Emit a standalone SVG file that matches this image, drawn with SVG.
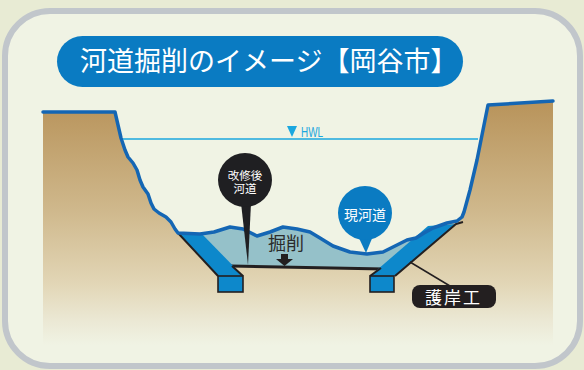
<svg xmlns="http://www.w3.org/2000/svg" width="584" height="370" viewBox="0 0 584 370">
  <style>
    .jp { font-family: "Noto Sans CJK JP", "Liberation Sans", sans-serif; }
    .tight { font-family: "Liberation Sans", "Noto Sans CJK JP", sans-serif; }
    .white { fill: #ffffff; }
    .slab { fill: #0d88cb; }
    .edge { fill: none; stroke: #231f20; stroke-width: 2; stroke-linejoin: round; }
    .bank { fill: none; stroke: #1466b4; stroke-width: 3.5; stroke-linejoin: round; stroke-linecap: round; }
  </style>
  <defs>
    <linearGradient id="soil" x1="0" y1="100" x2="0" y2="345" gradientUnits="userSpaceOnUse">
      <stop offset="0" stop-color="#b8935a"/>
      <stop offset="0.45" stop-color="#cfb88c"/>
      <stop offset="0.75" stop-color="#e2d6b6"/>
      <stop offset="0.9" stop-color="#ebe8d4"/>
      <stop offset="1" stop-color="#f0f3e4"/>
    </linearGradient>
  </defs>

  <!-- page background and panel -->
  <rect x="0" y="0" width="584" height="370" fill="#e8ebd4"/>
  <rect x="5" y="11" width="575" height="355" rx="45" fill="#f0f3e4" stroke="#c1c6cb" stroke-width="6"/>

  <!-- title -->
  <g id="title">
    <rect x="57" y="36" width="406" height="51" rx="25.5" fill="#0a7bc2"/>
    <text class="jp white" x="80" y="71" font-size="27">河道掘削のイメージ【岡谷市】</text>
  </g>

  <!-- ground cross-section -->
  <g id="ground">
    <path fill="url(#soil)" d="M43,112 L115,112 L118,125 L121,138 L125,150 L128,157 L133,163 L137,170 L140,180 L143,187 L148,194 L151,203 L154,209 L159,213 L166,217 L171,222 L175,229 L178,233 L200,234 L214,232 L230,227 L243,229 L257,236 L270,232 L283,227 L297,229 L310,232 L320,238 L333,246 L350,252 L367,254 L383,252 L397,245 L407,240 L416,238 L424,233 L433,228 L447,223 L457,221 L462,217 L464,212 L470,190 L477,160 L482,135 L488,105 L553,101 L553,345 L43,345 Z"/>
  </g>

  <!-- excavated zone -->
  <g id="excavation">
    <path fill="#95c1c9" d="M190,234 L200,234 L214,232 L230,227 L243,229 L257,236 L270,232 L283,227 L297,229 L310,232 L320,238 L333,246 L350,252 L367,254 L383,252 L397,245 L407,240 L416,238 L424,233 L433,228 L440,226 L390,269 L225,266 Z"/>
    <line x1="231" y1="266" x2="384" y2="269" stroke="#231f20" stroke-width="3"/>
  </g>

  <!-- left revetment -->
  <g id="revetment-left">
    <polygon class="slab" points="178,233 201,233 243,276 218,276"/>
    <polyline class="edge" points="178,233 218,276"/>
    <polyline class="edge" points="232,266 243,276"/>
    <rect class="slab" x="218" y="276" width="25" height="16" stroke="#231f20" stroke-width="1.6"/>
  </g>

  <!-- right revetment -->
  <g id="revetment-right">
    <polygon class="slab" points="428,226 456,224 395,276 370,276"/>
    <polyline class="edge" points="395,276 456,224 463,222"/>
    <polyline class="edge" points="381,268 370,276"/>
    <rect class="slab" x="370" y="276" width="24" height="16" stroke="#231f20" stroke-width="1.6"/>
  </g>

  <!-- current bank / bed line -->
  <g id="bank-line">
    <polyline class="bank" points="43,112 115,112 118,125 121,138 125,150 128,157 133,163 137,170 140,180 143,187 148,194 151,203 154,209 159,213 166,217 171,222 175,229 178,233 200,234 214,232 230,227 243,229 257,236 270,232 283,227 297,229 310,232 320,238 333,246 350,252 367,254 383,252 397,245 407,240 416,238 424,233 433,228 447,223 457,221 462,217 464,212 470,190 477,160 482,135 488,105 553,101"/>
  </g>

  <!-- high water level -->
  <g id="hwl">
    <line x1="123" y1="139" x2="478" y2="139" stroke="#1ba7df" stroke-width="1.6"/>
    <polygon points="287,126 297,126 292,137" fill="#1ba7df"/>
    <text x="301" y="137" font-family="Liberation Sans, sans-serif" font-size="15" fill="#1ba7df" textLength="22" lengthAdjust="spacingAndGlyphs">HWL</text>
  </g>

  <!-- excavation label -->
  <g id="label-kussaku">
    <text class="jp" x="268" y="250" font-size="18" fill="#2b2b2b">掘削</text>
    <rect x="281" y="254" width="7" height="6" fill="#231f20"/>
    <polygon points="276,259 293,259 284.5,266" fill="#231f20"/>
  </g>

  <!-- post-improvement channel pin -->
  <g id="label-kaishugo">
    <polygon points="241,203 251,203 248,265" fill="#1f1f22"/>
    <circle cx="245" cy="180" r="27" fill="#1f1f22"/>
    <text class="tight white" font-size="11.5" text-anchor="middle"><tspan x="245" y="180">改修後</tspan><tspan x="245" y="193">河道</tspan></text>
  </g>

  <!-- current channel pin -->
  <g id="label-genkado">
    <polygon points="358,236 373,236 366,253" fill="#0a7bc2"/>
    <circle cx="365" cy="213" r="27" fill="#0a7bc2"/>
    <text class="jp white" x="365" y="219.5" font-size="14" text-anchor="middle">現河道</text>
  </g>

  <!-- revetment label -->
  <g id="label-gogan">
    <rect x="412" y="285" width="84" height="23" rx="8" fill="#231f20"/>
    <text class="jp white" x="425" y="304" font-size="17" textLength="55" lengthAdjust="spacing">護岸工</text>
  </g>

  <!-- leader lines -->
  <g id="connectors">
    <line x1="410" y1="262" x2="450" y2="286" stroke="#231f20" stroke-width="1.5"/>
  </g>
</svg>
